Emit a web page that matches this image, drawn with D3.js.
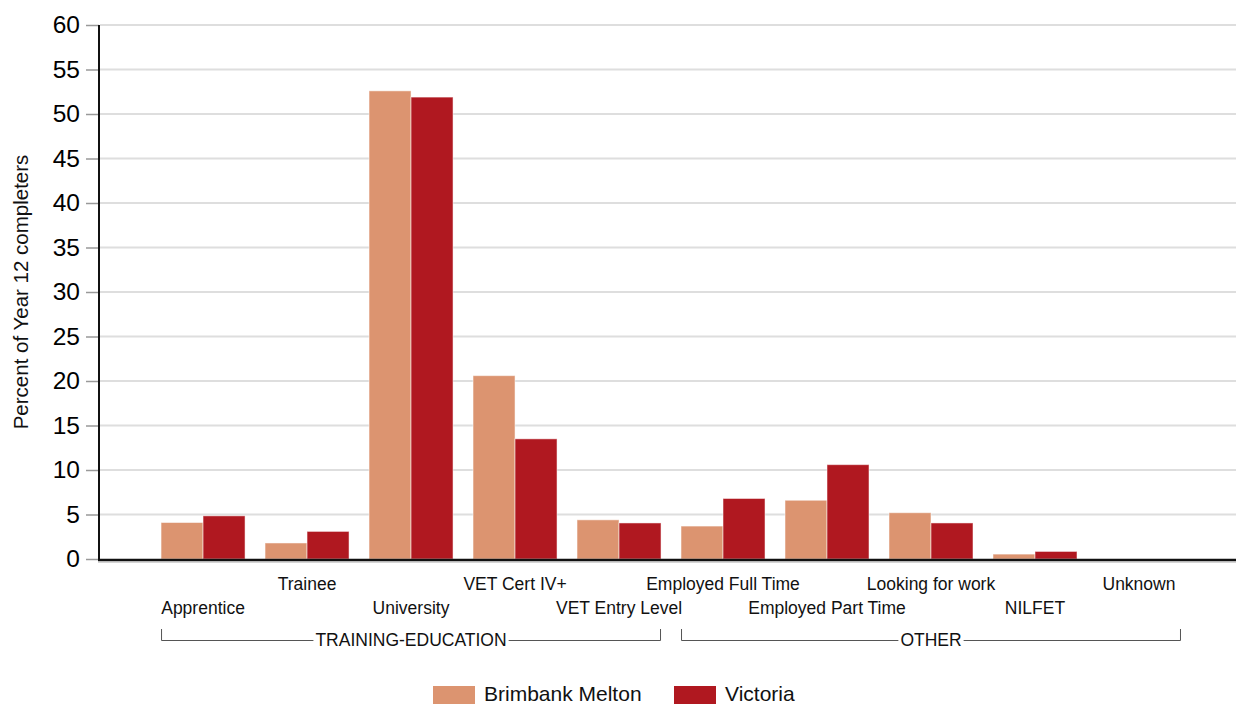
<!DOCTYPE html>
<html>
<head>
<meta charset="utf-8">
<script src="https://cdn.jsdelivr.net/npm/d3@7"></script>
<style>
  body { margin: 0; background: #fff; }
  svg { display: block; font-family: "Liberation Sans", Arial, sans-serif; }
</style>
</head>
<body>
<svg id="chart" width="1236" height="704"></svg>
<script>
const categories = ["Apprentice", "Trainee", "University", "VET Cert IV+", "VET Entry Level",
  "Employed Full Time", "Employed Part Time", "Looking for work", "NILFET", "Unknown"];
const brimbankMelton = [4.1, 1.8, 52.6, 20.6, 4.4, 3.7, 6.6, 5.2, 0.55, 0];
const victoria = [4.85, 3.1, 51.9, 13.5, 4.05, 6.8, 10.6, 4.05, 0.85, 0];
const seriesNames = ["Brimbank Melton", "Victoria"];
const seriesColors = ["#DC9470", "#B01820"];
const yTicks = [0, 5, 10, 15, 20, 25, 30, 35, 40, 45, 50, 55, 60];
const groups = [
  { name: "TRAINING-EDUCATION", from: "Apprentice", to: "VET Entry Level" },
  { name: "OTHER", from: "Employed Full Time", to: "Unknown" }
];

(function () {
const svg = d3.select("#chart");
const mLeft = 100, mRight = 1236, mTop = 25, mBottom = 559;

const x = d3.scaleBand().domain(categories).range([mLeft, mRight])
  .paddingInner(0.1923).paddingOuter(0.558).align(0.526);
const xs = d3.scaleBand().domain(seriesNames).range([0, x.bandwidth()]);
const y = d3.scaleLinear().domain([0, 60]).range([mBottom, mTop]);

// gridlines
svg.append("g").selectAll("line").data(yTicks.filter(d => d > 0)).join("line")
  .attr("x1", mLeft).attr("x2", mRight)
  .attr("y1", d => y(d)).attr("y2", d => y(d))
  .attr("stroke", "#dedede").attr("stroke-width", 2);

// y axis
const yAxis = d3.axisLeft(y).tickValues(yTicks).tickSize(13).tickPadding(6);
const gy = svg.append("g").attr("transform", `translate(${mLeft - 1},0)`).call(yAxis);
gy.select(".domain").remove();
gy.selectAll(".tick line").attr("stroke", "#999").attr("stroke-width", 1.5);
gy.selectAll(".tick text").attr("font-size", 24.5).attr("fill", "#000")
  .attr("font-family", "'Liberation Sans', Arial, sans-serif");
svg.append("line").attr("x1", mLeft - 1).attr("x2", mLeft - 1).attr("y1", mTop).attr("y2", mBottom + 1)
  .attr("stroke", "#111").attr("stroke-width", 2);

// bars
const data = categories.map((c, i) => ({ c, vals: [brimbankMelton[i], victoria[i]] }));
const gBars = svg.append("g");
data.forEach(d => {
  d.vals.forEach((v, j) => {
    if (v <= 0) return;
    gBars.append("rect")
      .attr("x", x(d.c) + xs(seriesNames[j]))
      .attr("y", y(v))
      .attr("width", xs.bandwidth())
      .attr("height", y(0) - y(v))
      .attr("fill", seriesColors[j])
      .attr("stroke", "rgba(255,255,255,0.5)").attr("stroke-width", 1);
  });
});

// baseline
svg.append("line").attr("x1", mLeft - 2).attr("x2", mRight).attr("y1", mBottom + 1).attr("y2", mBottom + 1)
  .attr("stroke", "#111").attr("stroke-width", 2.5);
svg.append("line").attr("x1", mLeft - 2).attr("x2", mRight).attr("y1", mBottom + 3).attr("y2", mBottom + 3)
  .attr("stroke", "#aaa").attr("stroke-width", 1);

// category labels (staggered)
svg.append("g").selectAll("text").data(categories).join("text")
  .attr("x", d => x(d) + x.bandwidth() / 2)
  .attr("y", (d, i) => i % 2 === 1 ? 590 : 614)
  .attr("text-anchor", "middle").attr("font-size", 17.5).attr("fill", "#111")
  .text(d => d);

// group brackets
groups.forEach(g => {
  const x0 = x(g.from), x1 = x(g.to) + x.bandwidth();
  const cx = (x0 + x1) / 2, by = 640;
  const t = svg.append("text").attr("x", cx).attr("y", by + 6)
    .attr("text-anchor", "middle").attr("font-size", 17.5).attr("fill", "#111").text(g.name);
  const w = t.node().getComputedTextLength();
  const gb = svg.append("g").attr("stroke", "#555").attr("stroke-width", 1).attr("fill", "none");
  gb.append("path").attr("d", `M${x0 + 0.5},${by - 11}V${by + 0.5}H${cx - w / 2 - 2}`);
  gb.append("path").attr("d", `M${cx + w / 2 + 2},${by + 0.5}H${x1 - 0.5}V${by - 11}`);
});

// legend
const legendItems = [{ x: 433, name: seriesNames[0], color: seriesColors[0] },
                     { x: 674, name: seriesNames[1], color: seriesColors[1] }];
const lg = svg.append("g");
legendItems.forEach(it => {
  lg.append("rect").attr("x", it.x).attr("y", 686).attr("width", 42).attr("height", 22).attr("fill", it.color);
  lg.append("text").attr("x", it.x + 51).attr("y", 701).attr("font-size", 21).attr("fill", "#111").text(it.name);
});

// y title
svg.append("text").attr("transform", "translate(28,292) rotate(-90)")
  .attr("text-anchor", "middle").attr("font-size", 20.5).attr("fill", "#111")
  .text("Percent of Year 12 completers");
})();
</script>
</body>
</html>
